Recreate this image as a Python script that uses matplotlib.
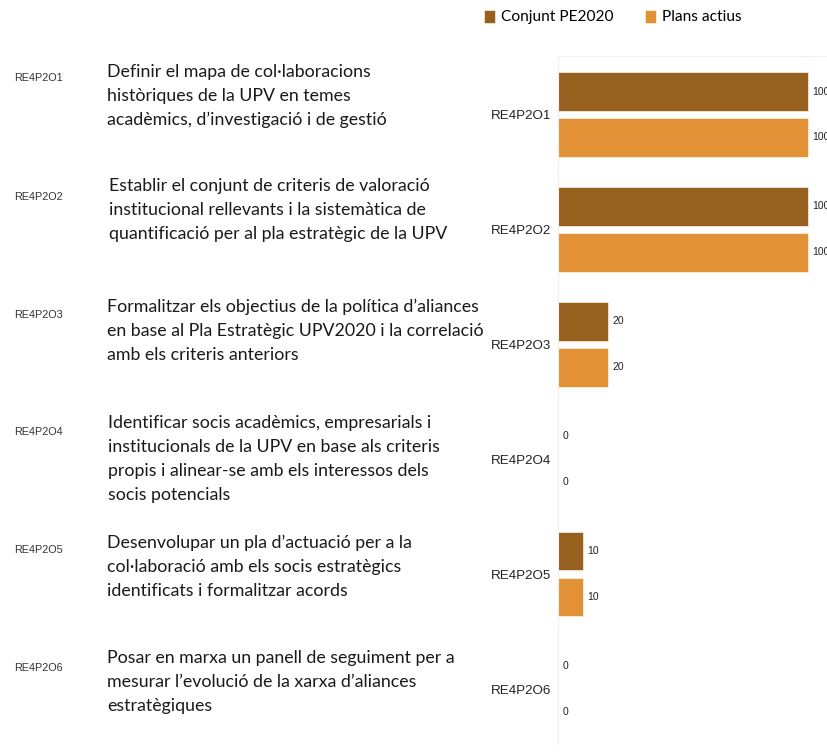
import matplotlib.pyplot as plt
import numpy as np

# Dades
codis = ['RE4P2O1', 'RE4P2O2', 'RE4P2O3', 'RE4P2O4', 'RE4P2O5', 'RE4P2O6']
descripcions = [
    ['Definir el mapa de col·laboracions', 'històriques de la UPV en temes',
     'acadèmics, d\u2019investigació i de gestió'],
    ['Establir el conjunt de criteris de valoració', 'institucional rellevants i la sistemàtica de',
     'quantificació per al pla estratègic de la UPV'],
    ['Formalitzar els objectius de la política d\u2019aliances', 'en base al Pla Estratègic UPV2020 i la correlació',
     'amb els criteris anteriors'],
    ['Identificar socis acadèmics, empresarials i', 'institucionals de la UPV en base als criteris',
     'propis i alinear-se amb els interessos dels', 'socis potencials'],
    ['Desenvolupar un pla d\u2019actuació per a la', 'col·laboració amb els socis estratègics',
     'identificats i formalitzar acords'],
    ['Posar en marxa un panell de seguiment per a', 'mesurar l\u2019evolució de la xarxa d\u2019aliances',
     'estratègiques'],
]
conjunt_pe2020 = [100, 100, 20, 0, 10, 0]
plans_actius = [100, 100, 20, 0, 10, 0]

color_fosc = '#96611F'
color_clar = '#E29136'

W, H = 827, 753
fig = plt.figure(figsize=(W / 100, H / 100), dpi=100)

# eix de les barres (coordenades en pixels de la figura)
ax_left, ax_top, ax_bottom = 558, 56, 745
ax = fig.add_axes([ax_left / W, 1 - ax_bottom / H, (W - ax_left) / W, (ax_bottom - ax_top) / H])

y = np.arange(len(codis))
h = 0.335
b1 = ax.barh(y - 0.2, conjunt_pe2020, height=h, color=color_fosc, edgecolor='#f3e6d6', linewidth=0.6,
             label='Conjunt PE2020')
b2 = ax.barh(y + 0.2, plans_actius, height=h, color=color_clar, edgecolor='#fbeedd', linewidth=0.6,
             label='Plans actius')
ax.bar_label(b1, padding=3, fontsize=7.5, family='Liberation Sans', color='#222222')
ax.bar_label(b2, padding=3, fontsize=7.5, family='Liberation Sans', color='#222222')

ax.set_xlim(0, (W - ax_left) / 2.5)
ax.set_ylim(5.487, -0.509)
ax.set_yticks(y)
ax.set_yticklabels(codis, fontsize=9.6, family='Liberation Sans', color='#222222')
ax.tick_params(axis='y', length=0, pad=5)
ax.set_xticks([])
for s in ['right', 'bottom']:
    ax.spines[s].set_visible(False)
for s in ['left', 'top']:
    ax.spines[s].set_color('#f0f0f0')
    ax.spines[s].set_linewidth(0.8)

# codis petits a l'esquerra
codi_y = [78, 197, 315, 432, 550, 668]
for c, yy in zip(codis, codi_y):
    fig.text(14 / W, 1 - yy / H, c, fontsize=7.8, family='Liberation Sans', color='#333333',
             va='center', ha='left')

# descripcions
desc_x = [107, 109, 107, 108, 107, 107]
desc_y = [72, 186, 307, 423, 543, 658]
for lines, xx, yy in zip(descripcions, desc_x, desc_y):
    for i, line in enumerate(lines):
        fig.text(xx / W, 1 - (yy + 24 * i) / H, line, fontsize=12.8, family='Lato', color='#1a1a1a',
                 va='center', ha='left')

# llegenda
fig.legend(handles=[b1, b2], loc='center left', bbox_to_anchor=(478 / W, 1 - 17 / H), ncol=2, frameon=False,
           prop={'family': 'Lato', 'size': 11.2}, handlelength=0.7, handleheight=0.9, handletextpad=0.4,
           columnspacing=2.0, borderaxespad=0)

fig.savefig('out.png', dpi=100)
